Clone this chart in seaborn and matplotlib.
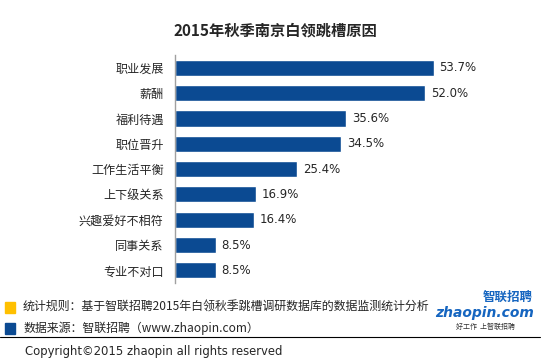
import matplotlib
matplotlib.use("Agg")
import matplotlib.pyplot as plt
import seaborn as sns
import pandas as pd
import numpy as np

reasons = ["职业发展", "薪酬", "福利待遇", "职位晋升", "工作生活平衡",
           "上下级关系", "兴趣爱好不相符", "同事关系", "专业不对口"]
shares = [53.7, 52.0, 35.6, 34.5, 25.4, 16.9, 16.4, 8.5, 8.5]

title = "2015年秋季南京白领跳槽原因"
note_rule = "统计规则：基于智联招聘2015年白领秋季跳槽调研数据库的数据监测统计分析"
note_source = "数据来源：智联招聘（www.zhaopin.com）"
copyright_text = "Copyright©2015 zhaopin all rights reserved"

sns.set_style("white")
plt.rcParams['font.family'] = ['Noto Sans CJK SC', 'DejaVu Sans']

df = pd.DataFrame({"reason": reasons, "share": shares})

fig = plt.figure(figsize=(5.5, 3.64), dpi=100)
ax = fig.add_axes([0.318, 0.2225, 0.5255, 0.626])

sns.barplot(data=df, y="reason", x="share", orient="h", color="#0B4A92",
            saturation=1, width=0.64, ax=ax)

ax.set_xlim(0, 60)
ax.set_ylim(len(reasons) - 0.5, -0.5)
ax.set_xlabel("")
ax.set_ylabel("")
ax.set_xticks([])
for s in ["top", "right", "bottom"]:
    ax.spines[s].set_visible(False)
ax.spines["left"].set_color("#A0A0A0")
ax.spines["left"].set_linewidth(1)
ax.tick_params(axis="y", which="major", length=0, pad=8, labelsize=8.7)
ax.set_yticks(np.arange(-0.5, len(reasons)), minor=True)
ax.tick_params(axis="y", which="minor", length=4, color="#A0A0A0", width=1)

for i, v in enumerate(shares):
    ax.text(v + 1.2, i, f"{v:.1f}%", va="center", ha="left", fontsize=8.5,
            family=['DejaVu Sans'])

fig.text(0.5, 0.915, title, ha="center", va="center", fontsize=11,
         fontweight="bold")

# footer
fig.patches.append(plt.Rectangle((5 / 550, 1 - 313 / 364), 10 / 550, 11 / 364,
                                 transform=fig.transFigure, color="#FFC000"))
fig.patches.append(plt.Rectangle((5 / 550, 1 - 334 / 364), 10 / 550, 11 / 364,
                                 transform=fig.transFigure, color="#0B4A92"))
fig.text(23 / 550, 1 - 307 / 364, note_rule, ha="left", va="center", fontsize=8.6)
fig.text(23 / 550, 1 - 328 / 364, note_source, ha="left", va="center", fontsize=8.6)
fig.add_artist(plt.Line2D([0, 540 / 550], [1 - 337 / 364, 1 - 337 / 364],
                          transform=fig.transFigure, color="black", lw=0.8))
fig.text(25 / 550, 1 - 351 / 364, copyright_text, ha="left", va="center",
         fontsize=8.4, family=['DejaVu Sans'])

# logo
fig.text(508 / 550, 1 - 297 / 364, "智联招聘", ha="center", va="center",
         fontsize=9, fontweight="bold", color="#1565C0", style="italic")
fig.text(485 / 550, 1 - 313 / 364, "zhaopin.com", ha="center", va="center",
         fontsize=10, fontweight="bold", color="#1565C0", style="italic",
         family=['DejaVu Sans'])
fig.text(485 / 550, 1 - 327 / 364, "好工作  上智联招聘", ha="center", va="center",
         fontsize=5, color="#333333", style="italic")

fig.savefig("out.png", dpi=100)
